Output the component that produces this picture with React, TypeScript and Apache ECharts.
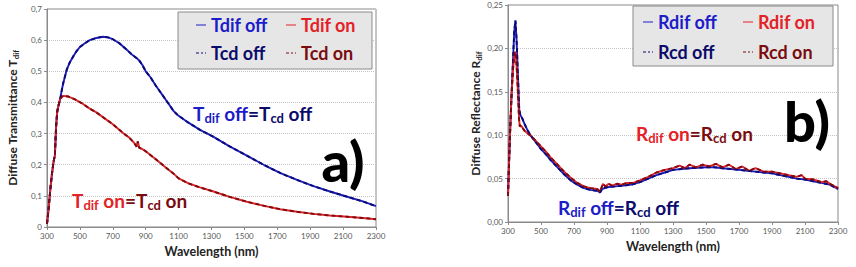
import React, { useEffect, useRef } from "react";
import * as echarts from "echarts";

// ---------- data (wavelength nm, value) ----------
const tDifOff: [number, number][] = [
  [300, 0.01], [310, 0.06], [320, 0.12], [330, 0.17], [340, 0.21], [348, 0.23], [355, 0.32],
  [362, 0.37], [370, 0.39], [380, 0.41], [390, 0.44], [400, 0.465], [420, 0.505], [440, 0.53],
  [460, 0.548], [480, 0.565], [500, 0.578], [530, 0.59], [560, 0.6], [600, 0.607], [640, 0.611],
  [670, 0.609], [700, 0.603], [740, 0.59], [785, 0.569], [820, 0.552], [846, 0.542], [860, 0.535],
  [880, 0.52], [900, 0.5], [930, 0.48], [960, 0.455], [1000, 0.425], [1040, 0.395], [1070, 0.372],
  [1100, 0.357], [1160, 0.335], [1230, 0.312], [1310, 0.29], [1410, 0.259], [1515, 0.229],
  [1620, 0.199], [1720, 0.173], [1820, 0.151], [1920, 0.131], [2020, 0.114], [2120, 0.098],
  [2220, 0.082], [2300, 0.067],
];
const tDifOn: [number, number][] = [
  [300, 0.01], [310, 0.06], [320, 0.12], [330, 0.17], [340, 0.21], [348, 0.23], [355, 0.32],
  [362, 0.37], [370, 0.39], [380, 0.412], [390, 0.418], [400, 0.421], [430, 0.419], [470, 0.41],
  [510, 0.398], [560, 0.38], [600, 0.368], [663, 0.344], [700, 0.33], [764, 0.301], [800, 0.287],
  [830, 0.27], [845, 0.258], [852, 0.275], [860, 0.255], [880, 0.25], [900, 0.243], [967, 0.215],
  [1020, 0.192], [1068, 0.172], [1100, 0.156], [1160, 0.14], [1230, 0.127], [1312, 0.114],
  [1410, 0.097], [1515, 0.081], [1620, 0.068], [1718, 0.057], [1820, 0.049], [1920, 0.042],
  [2020, 0.037], [2124, 0.033], [2220, 0.029], [2300, 0.025],
];
const tCdOff = tDifOff;
const tCdOn = tDifOn;

const rDifOff: [number, number][] = [
  [300, 0.03], [310, 0.09], [320, 0.14], [330, 0.185], [338, 0.22], [345, 0.232], [352, 0.21],
  [360, 0.17], [368, 0.13], [375, 0.123], [385, 0.12], [400, 0.113], [420, 0.105], [440, 0.099],
  [460, 0.094], [480, 0.089], [500, 0.084], [530, 0.078], [560, 0.071], [600, 0.063], [640, 0.055],
  [680, 0.048], [720, 0.043], [760, 0.039], [800, 0.037], [840, 0.036], [858, 0.034], [870, 0.038],
  [900, 0.04], [950, 0.041], [1000, 0.042], [1050, 0.043], [1100, 0.046], [1150, 0.05],
  [1200, 0.054], [1250, 0.057], [1300, 0.06], [1350, 0.061], [1400, 0.062], [1450, 0.0625],
  [1500, 0.063], [1550, 0.063], [1600, 0.062], [1650, 0.061], [1700, 0.06], [1750, 0.059],
  [1800, 0.058], [1850, 0.057], [1900, 0.056], [1950, 0.054], [2000, 0.052], [2050, 0.05],
  [2100, 0.049], [2150, 0.047], [2200, 0.045], [2250, 0.043], [2300, 0.038],
];
const rDifOn: [number, number][] = [
  [300, 0.03], [310, 0.09], [320, 0.14], [330, 0.175], [340, 0.195], [346, 0.196], [352, 0.18],
  [360, 0.15], [367, 0.118], [372, 0.11], [380, 0.111], [390, 0.108], [400, 0.105], [420, 0.102],
  [440, 0.099], [470, 0.093], [500, 0.087], [530, 0.081], [560, 0.074], [600, 0.066], [640, 0.058],
  [680, 0.051], [720, 0.045], [760, 0.041], [800, 0.039], [840, 0.038], [858, 0.035], [875, 0.044],
  [890, 0.041], [910, 0.044], [930, 0.042], [960, 0.044], [990, 0.043], [1020, 0.045],
  [1060, 0.045], [1100, 0.048], [1150, 0.052], [1200, 0.057], [1250, 0.06], [1300, 0.062],
  [1340, 0.065], [1370, 0.062], [1400, 0.066], [1440, 0.063], [1480, 0.066], [1520, 0.064],
  [1560, 0.067], [1600, 0.063], [1640, 0.066], [1680, 0.061], [1720, 0.064], [1760, 0.059],
  [1800, 0.062], [1850, 0.058], [1900, 0.058], [1950, 0.056], [2000, 0.054], [2050, 0.052],
  [2080, 0.054], [2100, 0.05], [2150, 0.049], [2200, 0.046], [2230, 0.047], [2260, 0.043],
  [2300, 0.039],
];
const rCdOff = rDifOff;
const rCdOn = rDifOn;

const BLUE = "#1c1cc9";
const NAVY = "#0b0b6b";
const RED = "#e32228";
const DARKRED = "#7a0c10";
const FONT = "Lato";

const SOLID_ICON = "path://M0,0h10v1h-10z";
const DASH_ICON = "path://M0,0h3v1h-3z M5,0h2v1h-2z M9,0h1v1h-1z";

const line = (name: string, data: [number, number][], color: string, dashed: boolean, idx: number) => ({
  name,
  type: "line",
  data,
  xAxisIndex: idx,
  yAxisIndex: idx,
  showSymbol: false,
  symbol: "none",
  lineStyle: { color, width: 1.9, type: dashed ? [4, 3] : "solid" },
  itemStyle: { color },
  z: dashed ? 3 : 2,
});

type Part = { t: string; s?: boolean; c: string };

function richText(parts: Part[]) {
  return parts.map((p, i) => `{${p.s ? "s" : "m"}${i}|${p.t}}`).join("");
}
function richStyles(parts: Part[], size: number) {
  const r: any = {};
  parts.forEach((p, i) => {
    r[(p.s ? "s" : "m") + i] = p.s
      ? { fontSize: Math.round(size * 0.68), fontWeight: "bold", fontFamily: FONT, fill: p.c, lineHeight: 10, verticalAlign: "bottom" }
      : { fontSize: size, fontWeight: "bold", fontFamily: FONT, fill: p.c, lineHeight: size + 4 };
  });
  return r;
}

function annotation(x: number, y: number, parts: Part[], size: number) {
  return {
    type: "text",
    x,
    y,
    z: 10,
    style: {
      text: richText(parts),
      rich: richStyles(parts, size),
      verticalAlign: "middle",
      align: "left",
    },
  };
}

const yFmt = (d: number) => (v: number) => (v === 0 && d === 1 ? "0" : v.toFixed(d).replace(".", ","));

function xAxis(idx: number) {
  return {
    type: "value",
    gridIndex: idx,
    min: 300,
    max: 2300,
    interval: 200,
    name: "Wavelength (nm)",
    nameLocation: "middle",
    nameGap: 14,
    nameTextStyle: { fontFamily: FONT, fontWeight: "bold", fontSize: 12.5, color: "#222" },
    axisLine: { show: true, lineStyle: { color: "#8a8a8a" } },
    axisTick: { show: true, length: 3, lineStyle: { color: "#8a8a8a" } },
    axisLabel: { fontSize: 8, color: "#595959", margin: 5, fontFamily: FONT, formatter: (v: number) => String(v) },
    splitLine: { show: false },
  };
}

function yAxis(idx: number, max: number, interval: number, dec: number, title: string, gap: number) {
  return {
    type: "value",
    gridIndex: idx,
    min: 0,
    max,
    interval,
    name: `{m|${title}}{s|dif}`,
    nameLocation: "middle",
    nameGap: gap,
    nameRotate: 90,
    nameTextStyle: {
      rich: {
        m: { fontFamily: FONT, fontWeight: "bold", fontSize: 12, color: "#222", lineHeight: 16 },
        s: { fontFamily: FONT, fontWeight: "bold", fontSize: 8, color: "#222", lineHeight: 9, verticalAlign: "bottom" },
      },
    },
    axisLine: { show: true, lineStyle: { color: "#8a8a8a" } },
    axisTick: { show: true, length: 3, lineStyle: { color: "#8a8a8a" } },
    axisLabel: { fontSize: 8, color: "#595959", margin: 5, fontFamily: FONT, formatter: yFmt(dec) },
    splitLine: { show: true, lineStyle: { color: "#c4c4c4", type: "dotted" } },
  };
}

function legend(left: number, top: number, gap: number, items: { name: string; color: string; dashed: boolean }[]) {
  return {
    orient: "vertical",
    left,
    top,
    itemGap: gap,
    itemWidth: 10,
    itemHeight: 2,
    selectedMode: false,
    padding: 0,
    textStyle: { fontFamily: FONT, fontWeight: "bold", fontSize: 18, lineHeight: 20 },
    data: items.map((it) => ({
      name: it.name,
      icon: it.dashed ? DASH_ICON : SOLID_ICON,
      itemStyle: { color: it.color },
      textStyle: { color: it.color },
    })),
    z: 12,
  };
}

export default function App() {
  const ref = useRef<HTMLDivElement>(null);
  useEffect(() => {
    document.body.style.margin = "0";
    const chart = echarts.init(ref.current!, null, { renderer: "svg" });
    chart.setOption({
      animation: false,
      backgroundColor: "#ffffff",
      grid: [
        { left: 47, right: 480, top: 9, bottom: 40, show: true, borderColor: "#8a8a8a", borderWidth: 1, backgroundColor: "transparent" },
        { left: 508, right: 18, top: 5, bottom: 45, show: true, borderColor: "#8a8a8a", borderWidth: 1, backgroundColor: "transparent" },
      ],
      xAxis: [xAxis(0), xAxis(1)],
      yAxis: [
        yAxis(0, 0.7, 0.1, 1, "Diffuse Transmittance T", 27),
        yAxis(1, 0.25, 0.05, 2, "Diffuse Reflectance R", 24),
      ],
      legend: [
        legend(196, 15, 8, [{ name: "Tdif off", color: BLUE, dashed: false }, { name: "Tcd off", color: NAVY, dashed: true }]),
        legend(286, 15, 8, [{ name: "Tdif on", color: RED, dashed: false }, { name: "Tcd on", color: DARKRED, dashed: true }]),
        legend(643, 12, 10, [{ name: "Rdif off", color: BLUE, dashed: false }, { name: "Rcd off", color: NAVY, dashed: true }]),
        legend(743, 12, 10, [{ name: "Rdif on", color: RED, dashed: false }, { name: "Rcd on", color: DARKRED, dashed: true }]),
      ],
      series: [
        line("Tdif off", tDifOff, BLUE, false, 0),
        line("Tdif on", tDifOn, RED, false, 0),
        line("Tcd off", tCdOff, NAVY, true, 0),
        line("Tcd on", tCdOn, DARKRED, true, 0),
        line("Rdif off", rDifOff, BLUE, false, 1),
        line("Rdif on", rDifOn, RED, false, 1),
        line("Rcd off", rCdOff, NAVY, true, 1),
        line("Rcd on", rCdOn, DARKRED, true, 1),
      ],
      graphic: [
        { type: "rect", shape: { x: 178, y: 12, width: 194, height: 57 }, style: { fill: "#e6e6e6", stroke: "#8a8a8a", lineWidth: 1 }, z: 5 },
        { type: "rect", shape: { x: 633, y: 6, width: 200, height: 60 }, style: { fill: "#e6e6e6", stroke: "#8a8a8a", lineWidth: 1 }, z: 5 },
        annotation(193, 113, [
          { t: "T", c: BLUE }, { t: "dif", s: true, c: BLUE }, { t: " off", c: BLUE },
          { t: "=T", c: NAVY }, { t: "cd", s: true, c: NAVY }, { t: " off", c: NAVY },
        ], 19),
        annotation(72, 200, [
          { t: "T", c: RED }, { t: "dif", s: true, c: RED }, { t: " on", c: RED },
          { t: "=T", c: DARKRED }, { t: "cd", s: true, c: DARKRED }, { t: " on", c: DARKRED },
        ], 19),
        annotation(636, 133, [
          { t: "R", c: RED }, { t: "dif", s: true, c: RED }, { t: " on", c: RED },
          { t: "=R", c: DARKRED }, { t: "cd", s: true, c: DARKRED }, { t: " on", c: DARKRED },
        ], 19),
        annotation(558, 207, [
          { t: "R", c: BLUE }, { t: "dif", s: true, c: BLUE }, { t: " off", c: BLUE },
          { t: "=R", c: NAVY }, { t: "cd", s: true, c: NAVY }, { t: " off", c: NAVY },
        ], 19),
        {
          type: "text", x: 343, y: 160, z: 10,
          style: { text: "a)", fontSize: 56, fontWeight: 900, fontFamily: FONT, fill: "#000", align: "center", verticalAlign: "middle" },
        },
        {
          type: "text", x: 807, y: 120, z: 10,
          style: { text: "b)", fontSize: 56, fontWeight: 900, fontFamily: FONT, fill: "#000", align: "center", verticalAlign: "middle" },
        },
      ],
    });
    return () => chart.dispose();
  }, []);
  return <div ref={ref} style={{ width: 856, height: 267, position: "fixed", left: 0, top: 0, background: "#fff" }} />;
}
